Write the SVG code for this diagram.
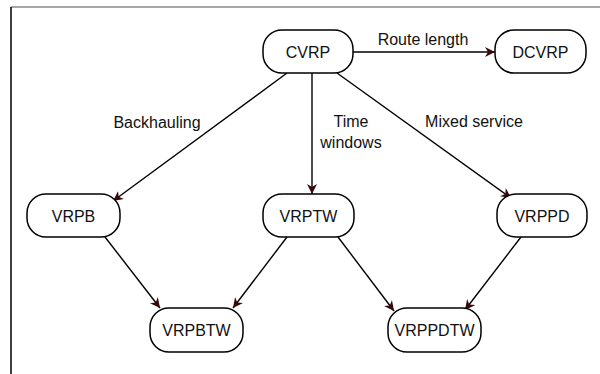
<svg xmlns="http://www.w3.org/2000/svg" width="600" height="374" viewBox="0 0 600 374">
  <defs>
    <marker id="arr" viewBox="0 0 10 10" refX="10" refY="5" markerWidth="10" markerHeight="10" markerUnits="userSpaceOnUse" orient="auto">
      <path d="M0,0 L10,5 L0,10 L3,5 z" fill="#3a0808"/>
    </marker>
    <style>
      .node rect { fill: #ffffff; stroke: #000000; stroke-width: 1.5; }
      .node text { font-family: "Liberation Sans", Arial, sans-serif; font-size: 16px; fill: #111111; text-anchor: middle; }
      .edges line { stroke: #000000; stroke-width: 1.4; marker-end: url(#arr); }
      .lbl { font-family: "Liberation Sans", Arial, sans-serif; font-size: 16px; fill: #111111; text-anchor: middle; }
    </style>
  </defs>
  <rect width="600" height="374" fill="#ffffff"/>
  <g id="frame">
    <line x1="11" y1="7" x2="600" y2="7" stroke="#8a8a8a" stroke-width="1.5"/>
    <line x1="11" y1="7" x2="11" y2="374" stroke="#000000" stroke-width="1.5"/>
  </g>
  <g class="edges" id="connectors">
    <line x1="353" y1="52" x2="495" y2="52"/>
    <line x1="287" y1="73" x2="113" y2="201"/>
    <line x1="312" y1="73" x2="312" y2="194"/>
    <line x1="337" y1="73" x2="511" y2="198"/>
    <line x1="105" y1="237" x2="160" y2="308"/>
    <line x1="287" y1="237" x2="233" y2="308"/>
    <line x1="338" y1="237" x2="394" y2="311"/>
    <line x1="521" y1="237" x2="465" y2="310"/>
  </g>
  <g id="labels">
    <text class="lbl" x="423" y="45">Route length</text>
    <text class="lbl" x="157" y="128">Backhauling</text>
    <text class="lbl" x="351" y="127">Time</text>
    <text class="lbl" x="351" y="148">windows</text>
    <text class="lbl" x="474" y="127">Mixed service</text>
  </g>
  <g class="node" id="CVRP">
    <rect x="263" y="30" width="90" height="43" rx="19"/>
    <text x="308" y="57.5">CVRP</text>
  </g>
  <g class="node" id="DCVRP">
    <rect x="495" y="30" width="91" height="43" rx="19"/>
    <text x="540.5" y="57.5">DCVRP</text>
  </g>
  <g class="node" id="VRPB">
    <rect x="27" y="194" width="93" height="43" rx="19"/>
    <text x="73.5" y="221.5">VRPB</text>
  </g>
  <g class="node" id="VRPTW">
    <rect x="263" y="194" width="91" height="43" rx="19"/>
    <text x="308.5" y="221.5">VRPTW</text>
  </g>
  <g class="node" id="VRPPD">
    <rect x="497" y="194" width="90" height="43" rx="19"/>
    <text x="542" y="221.5">VRPPD</text>
  </g>
  <g class="node" id="VRPBTW">
    <rect x="150" y="308" width="93" height="44" rx="19"/>
    <text x="196.5" y="336">VRPBTW</text>
  </g>
  <g class="node" id="VRPPDTW">
    <rect x="388" y="308" width="93" height="44" rx="19"/>
    <text x="434.5" y="336">VRPPDTW</text>
  </g>
</svg>
